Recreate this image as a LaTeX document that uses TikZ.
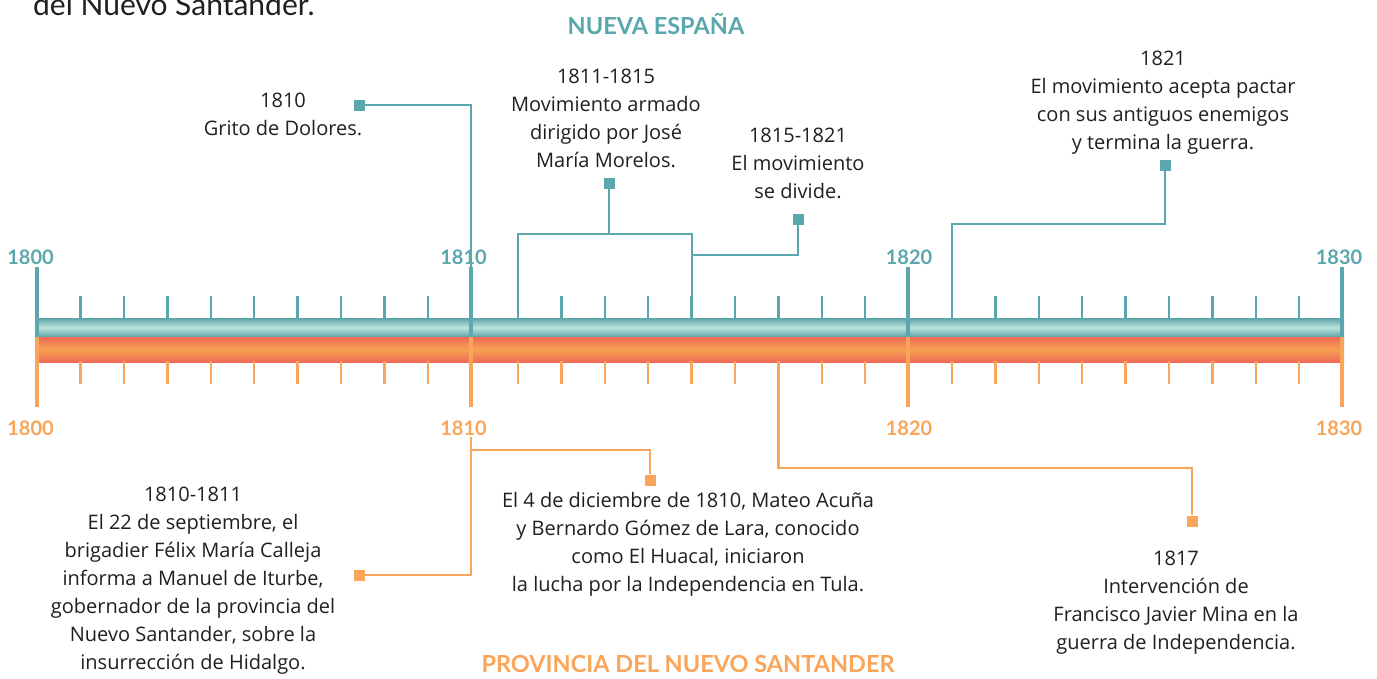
\documentclass[tikz,border=0pt]{standalone}
\usepackage{fontspec}
\setmainfont{Lato}
\newfontfamily\evfont{Open Sans}
\definecolor{tealc}{HTML}{5AA7AD}
\definecolor{tealdark}{HTML}{5BA3A8}
\definecolor{teallight}{HTML}{BCE4DB}
\definecolor{orangec}{HTML}{F9A55A}
\definecolor{orangered}{HTML}{EF6A57}
\definecolor{orangemid}{HTML}{F7A152}
\definecolor{textc}{HTML}{231F20}
\begin{document}
\begin{tikzpicture}[x=1pt,y=-1pt,
  evtext/.style={align=center, font=\evfont\fontsize{20}{28}\selectfont, text=textc, inner sep=0pt},
  sqT/.style={fill=tealc, minimum size=11pt, inner sep=0pt, draw=none},
  sqO/.style={fill=orangec, minimum size=11pt, inner sep=0pt, draw=none},
  conT/.style={draw=tealc, line width=2.4pt},
  conO/.style={draw=orangec, line width=2.4pt},
  majT/.style={draw=tealc, line width=3.4pt},
  majO/.style={draw=orangec, line width=3.4pt},
  minT/.style={draw=tealc, line width=2.4pt},
  minO/.style={draw=orangec, line width=2.4pt},
  yrT/.style={font=\bfseries\fontsize{20}{20}\selectfont, text=tealc, inner sep=0pt},
  yrO/.style={font=\bfseries\fontsize{20}{20}\selectfont, text=orangec, inner sep=0pt},
  headT/.style={font=\bfseries\fontsize{23.5}{23.5}\selectfont, text=tealc, inner sep=0pt},
  headO/.style={font=\bfseries\fontsize{23.5}{23.5}\selectfont, text=orangec, inner sep=0pt}]
\useasboundingbox (0,0) rectangle (1377,678);
\clip (0,0) rectangle (1377,678);
\fill[white] (0,0) rectangle (1377,678);

% cropped page text
\node[anchor=base west, font=\fontsize{30}{30}\selectfont, text=textc, inner sep=0pt] (pagetext) at (33,15) {del Nuevo Santander.};

% headings
\node[headT] (nes) at (656,24) {NUEVA ESPAÑA};
\node[headO] (pns) at (688,664) {PROVINCIA DEL NUEVO SANTANDER};

% bars
\shade[top color=tealdark, bottom color=tealdark, middle color=teallight] (36,318) rectangle (1344,337);
\shade[top color=orangered, bottom color=orangered, middle color=orangemid] (36,337) rectangle (1344,362);

% minor ticks
\foreach \x in {80.4,123.9,167.3,210.8,254.2,297.6,341.1,384.5,428,
                518,561.4,604.8,648.2,691.6,735,778.4,821.8,865.2,
                952,995.4,1038.8,1082.2,1125.6,1169,1212.4,1255.8,1299.2}{
  \draw[minT] (\x,296) -- (\x,319);
  \draw[minO] (\x,361) -- (\x,384);
}
% major ticks
\foreach \x in {37,471,908,1342}{
  \draw[majT] (\x,267) -- (\x,337);
  \draw[majO] (\x,337) -- (\x,407);
}

% year labels
\node[yrT] (t1800) at (30.5,257) {1800};
\node[yrT] (t1810) at (463.5,257) {1810};
\node[yrT] (t1820) at (909,257) {1820};
\node[yrT] (t1830) at (1339,257) {1830};
\node[yrO] (o1800) at (30.5,428) {1800};
\node[yrO] (o1810) at (463.5,428) {1810};
\node[yrO] (o1820) at (909,428) {1820};
\node[yrO] (o1830) at (1339,428) {1830};

% event texts
\node[evtext] (eGrito) at (283,114) {1810\\Grito de Dolores.};
\node[evtext] (eMorelos) at (606,118) {1811-1815\\Movimiento armado\\dirigido por José\\María Morelos.};
\node[evtext] (eDivide) at (798,163) {1815-1821\\El movimiento\\se divide.};
\node[evtext] (e1821) at (1163,103) {1821\\El movimiento acepta pactar\\con sus antiguos enemigos\\y termina la guerra.};
\node[evtext] (eCalleja) at (193,581) {1810-1811\\El 22 de septiembre, el\\brigadier Félix María Calleja\\informa a Manuel de Iturbe,\\gobernador de la provincia del\\Nuevo Santander, sobre la\\insurrección de Hidalgo.};
\node[evtext] (eAcuna) at (688,544) {El 4 de diciembre de 1810, Mateo Acuña\\y Bernardo Gómez de Lara, conocido\\como El Huacal, iniciaron\\la lucha por la Independencia en Tula.};
\node[evtext] (eMina) at (1176,603) {1817\\Intervención de\\Francisco Javier Mina en la\\guerra de Independencia.};

% squares
\node[sqT] (sq1) at (359,105) {};
\node[sqT] (sq2) at (609,183) {};
\node[sqT] (sq3) at (798,219) {};
\node[sqT] (sq4) at (1165,165) {};
\node[sqO] (sq5) at (359,575) {};
\node[sqO] (sq6) at (650,480) {};
\node[sqO] (sq7) at (1192,521) {};

% coordinates on bar
\coordinate (b1810) at (471,318);
\coordinate (b1811) at (518,318);
\coordinate (b1815) at (692,318);
\coordinate (b1821) at (952,318);
\coordinate (j2) at (609,234);
\coordinate (j3) at (692,255);
\coordinate (j4) at (952,224);
\coordinate (ob1810) at (471,437);
\coordinate (j5) at (471,450);
\coordinate (ob1817) at (778.4,362);
\coordinate (j7) at (778.4,468);

% teal connectors
\draw[conT] (sq1.east) -| (b1810);
\draw[conT] (sq2.south) -- (j2);
\draw[conT] (b1811) |- (j2) -| (b1815);
\draw[conT] (sq3.south) |- (j3);
\draw[conT] (sq4.south) |- (j4) -- (b1821);
% orange connectors
\draw[conO] (ob1810) |- (sq5.east);
\draw[conO] (j5) -| (sq6.north);
\draw[conO] (ob1817) -- (j7) -| (sq7.north);
\end{tikzpicture}
\end{document}
